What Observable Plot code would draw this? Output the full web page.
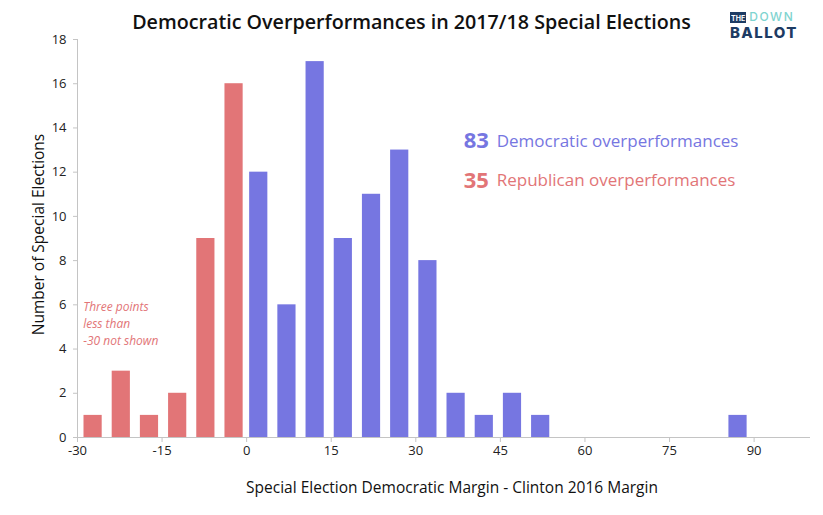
<!DOCTYPE html>
<html><head><meta charset="utf-8">
<script src="https://cdn.jsdelivr.net/npm/d3@7"></script>
<script src="https://cdn.jsdelivr.net/npm/@observablehq/plot@0.6"></script>
<style>
body{margin:0;background:#fff;font-family:"Open Sans",sans-serif;}
#wrap{position:relative;width:823px;height:515px;overflow:hidden;background:#fff}
#head{position:relative;height:28px}
#title{position:absolute;left:0;width:823px;top:9px;line-height:26px;text-align:center;font-size:19.7px;font-weight:600;color:#111}
#logo{position:absolute;left:730px;top:11px;width:70px}
#logo .r1{display:flex;align-items:center;height:12px}
#logo .the{background:#1d3b63;color:#fff;font:bold 7px Inter,sans-serif;padding:1px 1px 0 1px;border-top:2px solid #1d3b63;line-height:8px}
#logo .down{color:#7fd4d0;font:500 12px Inter,sans-serif;letter-spacing:1.6px;margin-left:3px;line-height:12px}
#logo .ballot{color:#1d3b63;font:800 15px Inter,sans-serif;letter-spacing:1.4px;line-height:15px;margin-top:2px}
#chart svg{overflow:visible}
</style></head><body>
<div id="wrap">
 <div id="head">
  <div id="title">Democratic Overperformances in 2017/18 Special Elections</div>
  <div id="logo"><div class="r1"><span class="the">THE</span><span class="down">DOWN</span></div><div class="ballot">BALLOT</div></div>
 </div>
 <div id="chart"></div>
</div>
<script>
// bin starts (5-point bins) and counts
const redBins   = [-30, -25, -20, -15, -10, -5];
const redCounts = [1, 3, 1, 2, 9, 16];
const blueBins   = [0, 5, 10, 15, 20, 25, 30, 35, 40, 45, 50, 85];
const blueCounts = [12, 6, 17, 9, 11, 13, 8, 2, 1, 2, 1, 1];
const xTicks = [-30, -15, 0, 15, 30, 45, 60, 75, 90];
const yTicks = [0, 2, 4, 6, 8, 10, 12, 14, 16, 18];
const demTotal = 83, repTotal = 35;
const demLabel = "Democratic overperformances";
const repLabel = "Republican overperformances";
const note = "Three points\nless than\n-30 not shown";
const xLabel = "Special Election Democratic Margin - Clinton 2016 Margin";
const yLabel = "Number of Special Elections";

const BLUE = "#7676e1", RED = "#e27577", AXIS = "#c4c4c4", TXT = "#222";
const red = redBins.map((lo, i) => ({lo, n: redCounts[i]}));
const blue = blueBins.map((lo, i) => ({lo, n: blueCounts[i]}));

const chart = Plot.plot({
  width: 823, height: 487,
  marginTop: 11, marginBottom: 78, marginLeft: 77, marginRight: 13,
  style: {fontFamily: "Open Sans", fontSize: "13px", overflow: "visible", background: "#fff"},
  x: {domain: [-30, 100], label: null},
  y: {domain: [0, 18], label: null},
  marks: [
    Plot.rectY(red, {x1: "lo", x2: d => d.lo + 5, y1: 0, y2: "n", fill: RED, insetLeft: 6.5, insetRight: 3.5}),
    Plot.rectY(blue, {x1: "lo", x2: d => d.lo + 5, y1: 0, y2: "n", fill: BLUE, insetLeft: 3, insetRight: 7}),
    Plot.ruleY([0], {stroke: AXIS}),
    Plot.ruleX([-30], {stroke: AXIS}),
    Plot.axisX({ticks: xTicks, tickFormat: d => String(d), tickSize: 5, tickPadding: 3, stroke: AXIS, fill: TXT, label: null}),
    Plot.axisY({ticks: yTicks, tickFormat: d => String(d), tickSize: 4, tickPadding: 7, stroke: AXIS, fill: TXT, label: null}),
    Plot.text([note], {x: -29, y: 5.2, text: d => d, textAnchor: "start", lineAnchor: "middle", fill: RED, fontStyle: "italic", fontSize: 12, lineHeight: 1.4}),
    Plot.text([demTotal], {x: 38.5, y: 13.4, text: d => String(d), textAnchor: "start", fontWeight: "bold", fontSize: 22, fill: BLUE}),
    Plot.text([demLabel], {x: 38.5, y: 13.4, dx: 33, text: d => d, textAnchor: "start", fontSize: 17, fill: BLUE}),
    Plot.text([repTotal], {x: 38.5, y: 11.6, text: d => String(d), textAnchor: "start", fontWeight: "bold", fontSize: 22, fill: RED}),
    Plot.text([repLabel], {x: 38.5, y: 11.6, dx: 33, text: d => d, textAnchor: "start", fontSize: 17, fill: RED}),
    Plot.text([xLabel], {frameAnchor: "bottom", dy: 55, dx: 8, text: d => d, fontSize: 15.5, fill: "#111"}),
    Plot.text([yLabel], {frameAnchor: "left", textAnchor: "middle", dx: -38, dy: -4, rotate: -90, text: d => d, fontSize: 15.5, fill: "#111"})
  ]
});
document.getElementById("chart").appendChild(chart);
</script>
</body></html>
